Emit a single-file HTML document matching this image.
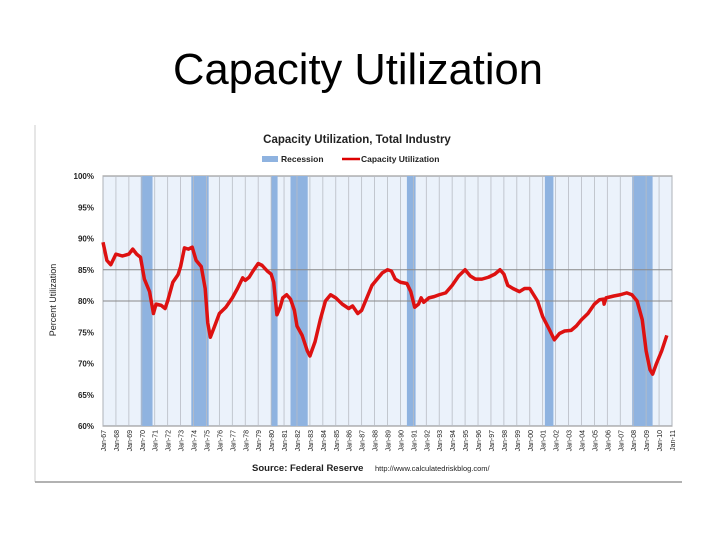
<!DOCTYPE html>
<html><head><meta charset="utf-8"><style>
body{margin:0;background:#fff;width:720px;height:540px;overflow:hidden;font-family:"Liberation Sans",sans-serif}
</style></head><body>
<svg width="720" height="540" viewBox="0 0 720 540">
<text x="358" y="84" font-size="43.5" text-anchor="middle" fill="#000">Capacity Utilization</text>
<line x1="35" y1="125" x2="35" y2="482" stroke="#ccc"/>
<line x1="35" y1="482" x2="682" y2="482" stroke="#999" stroke-width="1.5"/>
<text x="357" y="143" font-size="11.5" font-weight="bold" text-anchor="middle" fill="#222">Capacity Utilization, Total Industry</text>
<g>
<rect x="262" y="156" width="16" height="6" fill="#8fb3e0"/>
<text x="281" y="162" font-size="8.5" font-weight="bold" fill="#222">Recession</text>
<line x1="342" y1="159" x2="360" y2="159" stroke="#d00" stroke-width="2.5"/>
<text x="361" y="162" font-size="8.5" font-weight="bold" fill="#222">Capacity Utilization</text>
</g>
<text transform="translate(56,300) rotate(-90)" font-size="9" text-anchor="middle" fill="#222">Percent Utilization</text>
<g id="plot"></g>
<text x="252" y="471" font-size="9.5" font-weight="bold" fill="#222">Source: Federal Reserve</text>
<text x="375" y="471" font-size="7.5" fill="#222">http://www.calculatedriskblog.com/</text>
</svg>
<script>
const recessionStarts=[1969.92,1973.83,1980.0,1981.5,1990.5,2001.17,2007.92];
const recessionEnds=[1970.83,1975.17,1980.5,1982.83,1991.17,2001.83,2009.5];
const yTicks=[60,65,70,75,80,85,90,95,100];
const years=[1967,1967.3,1967.6,1968,1968.5,1969,1969.3,1969.6,1969.9,1970.2,1970.6,1970.9,1971.1,1971.5,1971.8,1972,1972.4,1972.8,1973,1973.3,1973.6,1973.9,1974.2,1974.6,1974.9,1975.1,1975.3,1975.6,1976,1976.5,1977,1977.4,1977.8,1978,1978.3,1978.6,1979,1979.3,1979.7,1980,1980.2,1980.45,1980.7,1980.9,1981.2,1981.5,1981.8,1982,1982.4,1982.8,1983,1983.4,1983.8,1984.2,1984.6,1985,1985.5,1986,1986.3,1986.7,1987,1987.4,1987.8,1988.2,1988.6,1989,1989.3,1989.6,1990,1990.5,1990.8,1991.1,1991.4,1991.6,1991.8,1992.2,1992.6,1993,1993.5,1994,1994.5,1995,1995.4,1995.8,1996.3,1996.8,1997.3,1997.7,1998,1998.3,1998.7,1999.2,1999.6,2000,2000.3,2000.6,2001,2001.5,2001.9,2002.3,2002.7,2003.2,2003.6,2004,2004.5,2005,2005.4,2005.7,2005.75,2005.9,2006.5,2007,2007.5,2007.9,2008.3,2008.7,2009,2009.3,2009.5,2009.8,2010.2,2010.6];
const values=[89.4,86.5,85.8,87.5,87.2,87.5,88.3,87.5,87.0,83.5,81.5,78.0,79.5,79.3,78.8,80.0,83.0,84.2,85.5,88.5,88.3,88.6,86.5,85.5,82.0,76.5,74.2,75.8,78.0,79.0,80.5,82.0,83.7,83.3,83.8,84.8,86.0,85.7,84.8,84.3,83.0,77.8,79.0,80.5,81.0,80.3,78.5,76.0,74.5,72.0,71.2,73.5,77.0,80.0,81.0,80.5,79.5,78.8,79.2,78.0,78.5,80.5,82.5,83.5,84.5,85.0,84.8,83.5,83.0,82.8,81.5,79.0,79.5,80.5,79.8,80.5,80.7,81.0,81.3,82.5,84.0,85.0,84.0,83.5,83.5,83.8,84.3,85.0,84.3,82.5,82.0,81.5,82.0,82.0,81.0,80.0,77.5,75.5,73.8,74.8,75.2,75.3,76.0,77.0,78.0,79.5,80.2,80.3,79.5,80.5,80.8,81.0,81.3,81.0,80.0,77.0,72.0,69.0,68.3,70.0,72.0,74.5];
const L=103,R=672,T=176,B=426;
const xs=y=>L+(y-1967)*(R-L)/44;
const ys=v=>B-(v-60)*(B-T)/40;
const NS='http://www.w3.org/2000/svg';
const g=document.getElementById('plot');
function mk(t,a){const e=document.createElementNS(NS,t);for(const k in a)e.setAttribute(k,a[k]);g.appendChild(e);return e;}
let e=mk('rect',{x:L,y:T,width:R-L,height:B-T,fill:'#ebf2fb',stroke:'#888'});


for(let i=0;i<recessionStarts.length;i++){
 e=mk('rect',{x:xs(recessionStarts[i]),y:T,width:xs(recessionEnds[i])-xs(recessionStarts[i]),height:B-T,fill:'#8fb3e0'});
 
 
}
for(let yr=1967;yr<=2011;yr++){
 const x=xs(yr);
 e=mk('line',{x1:x,y1:T,x2:x,y2:B,stroke:'#b8bcc4','stroke-width':0.8});
 
 
 e=mk('text',{transform:`translate(${x+3},${B+4}) rotate(-90)`,'font-size':7,'text-anchor':'end',fill:'#222'});
 e.textContent='Jan-'+String(yr%100).padStart(2,'0');
 
 
}
yTicks.forEach(v=>{
 if(v==80||v==85){e=mk('line',{x1:L,y1:ys(v),x2:R,y2:ys(v),stroke:'#888','stroke-width':1});
 
 }
 e=mk('text',{x:94,y:ys(v)+3,'font-size':8,'font-weight':'bold','text-anchor':'end',fill:'#222'});
 e.textContent=v+'%';
 
 
});
e=mk('polyline',{points:years.map((y,i)=>xs(y)+','+ys(values[i])).join(' '),fill:'none',stroke:'#dd1111','stroke-width':3.5,'stroke-linejoin':'round'});


</script>
</body></html>
